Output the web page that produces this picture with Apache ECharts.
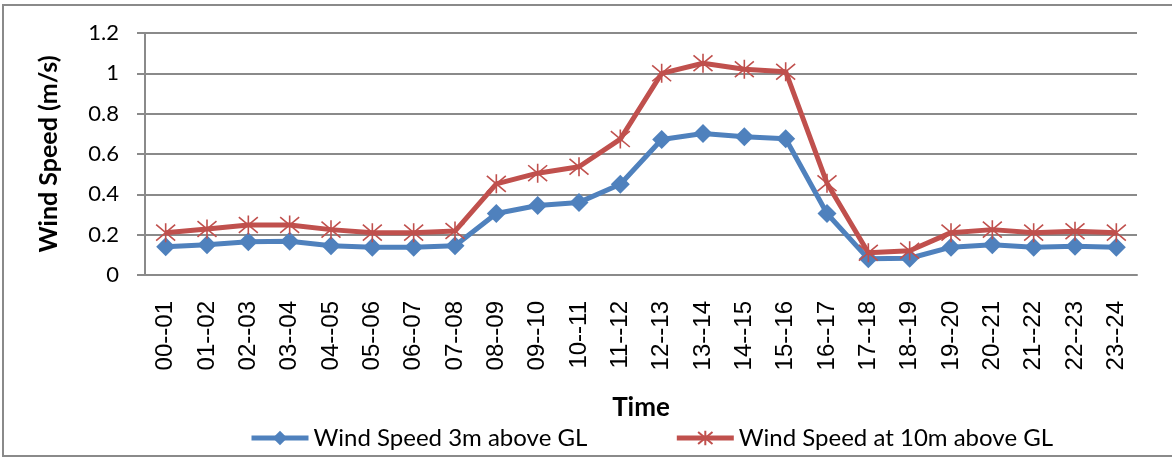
<!DOCTYPE html>
<html>
<head>
<meta charset="utf-8">
<script src="https://cdn.jsdelivr.net/npm/echarts@6/dist/echarts.min.js"></script>
<style>
  html, body { margin: 0; padding: 0; background: #ffffff; }
  #chart { width: 1172px; height: 458px; }
</style>
</head>
<body>
<div id="chart"></div>
<script>
// Hourly intervals of the day
const hours = ['00--01','01--02','02--03','03--04','04--05','05--06','06--07','07--08',
               '08--09','09--10','10--11','11--12','12--13','13--14','14--15','15--16',
               '16--17','17--18','18--19','19--20','20--21','21--22','22--23','23--24'];

// Mean wind speed (m/s) at 3 m above ground level
const speed3m = [0.14, 0.15, 0.165, 0.167, 0.145, 0.138, 0.138, 0.145,
                 0.305, 0.345, 0.36, 0.45, 0.672, 0.702, 0.685, 0.676,
                 0.305, 0.08, 0.083, 0.138, 0.15, 0.138, 0.142, 0.138];

// Mean wind speed (m/s) at 10 m above ground level
const speed10m = [0.21, 0.228, 0.248, 0.248, 0.225, 0.21, 0.21, 0.218,
                  0.452, 0.505, 0.537, 0.674, 1.0, 1.05, 1.02, 1.008,
                  0.455, 0.11, 0.12, 0.21, 0.225, 0.21, 0.217, 0.21];

const seriesNames = ['Wind Speed 3m above GL', 'Wind Speed at 10m above GL'];

const yMin = 0, yMax = 1.2, yStep = 0.2;

const BLUE = '#4F81BD';
const RED = '#C0504D';
const GRID_GRAY = '#8A8A8A';
const CAL = 'Lato, "Open Sans", sans-serif';
const ARIAL = '"Liberation Sans", Arial, sans-serif';

// asterisk marker: X plus a vertical stroke
const starPath = 'path://M0,0L10,10M10,0L0,10M5,-1L5,11';

const chart = echarts.init(document.getElementById('chart'), null, { renderer: 'canvas' });

chart.setOption({
  animation: false,
  backgroundColor: '#ffffff',
  graphic: [{
    type: 'rect',
    shape: { x: 3, y: 5, width: 1180, height: 451 },
    style: { fill: 'none', stroke: '#8A8A8A', lineWidth: 2 },
    silent: true,
    z: -10
  }],
  grid: { left: 145, right: 35, top: 33, bottom: 183, containLabel: false },
  legend: {
    data: seriesNames,
    top: 421,
    left: 244,
    itemWidth: 57,
    itemHeight: 18,
    itemGap: 87,
    lineStyle: { width: 5 },
    textStyle: { fontFamily: CAL, fontSize: 24, color: '#000' }
  },
  xAxis: {
    type: 'category',
    data: hours,
    boundaryGap: true,
    name: 'Time',
    nameLocation: 'middle',
    nameGap: 120,
    nameTextStyle: { fontFamily: CAL, fontSize: 26, fontWeight: 'bold', color: '#000' },
    axisLine: { lineStyle: { color: GRID_GRAY, width: 2 } },
    axisTick: { show: false },
    axisLabel: {
      rotate: 90,
      margin: 26,
      interval: 0,
      fontFamily: ARIAL,
      fontSize: 24,
      color: '#000'
    }
  },
  yAxis: {
    type: 'value',
    min: yMin,
    max: yMax,
    interval: yStep,
    name: 'Wind Speed (m/s)',
    nameLocation: 'middle',
    nameGap: 84,
    nameTextStyle: { fontFamily: CAL, fontSize: 25, fontWeight: 'bold', color: '#000' },
    axisLine: { show: true, lineStyle: { color: GRID_GRAY, width: 2 } },
    axisTick: { show: true, length: 8, lineStyle: { color: GRID_GRAY, width: 2 } },
    splitLine: { lineStyle: { color: GRID_GRAY, width: 2 } },
    axisLabel: {
      margin: 26,
      fontFamily: CAL,
      fontSize: 22,
      color: '#000',
      formatter: v => String(Math.round(v * 10) / 10)
    }
  },
  series: [
    {
      name: seriesNames[0],
      type: 'line',
      data: speed3m,
      symbol: 'diamond',
      symbolSize: 19,
      lineStyle: { color: BLUE, width: 5 },
      itemStyle: { color: BLUE },
      z: 2
    },
    {
      name: seriesNames[1],
      type: 'line',
      data: speed10m,
      symbol: starPath,
      symbolSize: 19,
      lineStyle: { color: RED, width: 5 },
      itemStyle: { color: RED, borderColor: RED, borderWidth: 1.6 },
      z: 3
    }
  ]
});
</script>
</body>
</html>
